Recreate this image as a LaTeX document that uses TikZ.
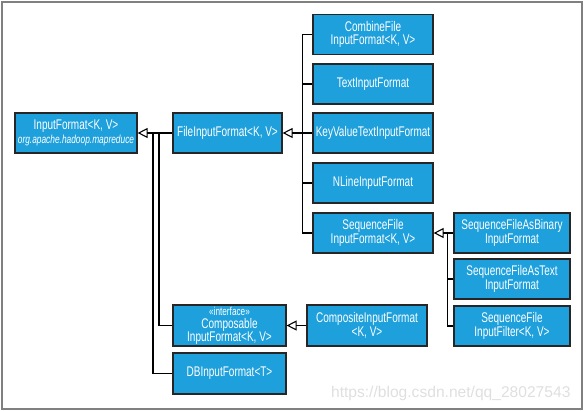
\documentclass[tikz,border=0pt]{standalone}
\usepackage{fontspec}
\usetikzlibrary{arrows.meta}
\newfontfamily\boxfont{Liberation Sans}[FakeStretch=0.715]
\newfontfamily\wmfont{Liberation Sans}
\definecolor{boxblue}{RGB}{30,160,220}

\begin{document}
\begin{tikzpicture}[x=1pt,y=-1pt,
  cls/.style={draw=black!85,line width=1.2pt,fill=boxblue,text=white,inner sep=0pt,
    minimum height=40pt,align=center,font=\boxfont\fontsize{14}{13.5}\selectfont},
  inh/.style={line width=1.1pt,-{Triangle[open,length=10pt,width=10pt]}},
  lnk/.style={line width=1.1pt}]
\useasboundingbox (0,0) rectangle (584,411);
\draw[gray,line width=1.3pt] (2,2) rectangle (582,409);

\node[cls,minimum width=122pt] (inf) at (76,133) {InputFormat<K, V>\\{\itshape\fontsize{11.7}{11}\selectfont org.apache.hadoop.mapreduce}};
\node[cls,minimum width=109pt] (fif) at (227.5,133) {FileInputFormat<K, V>};
\node[cls,minimum width=120pt] (cmb) at (373,34.5) {CombineFile\\InputFormat<K, V>};
\node[cls,minimum width=120pt] (tif) at (373,84) {TextInputFormat};
\node[cls,minimum width=120pt] (kv) at (373,133) {KeyValueTextInputFormat};
\node[cls,minimum width=120pt] (nl) at (373,183) {NLineInputFormat};
\node[cls,minimum width=120pt] (seq) at (373,233) {SequenceFile\\InputFormat<K, V>};
\node[cls,minimum width=116pt] (sfb) at (512,233) {SequenceFileAsBinary\\InputFormat};
\node[cls,minimum width=116pt] (sft) at (512,279) {SequenceFileAsText\\InputFormat};
\node[cls,minimum width=116pt] (sff) at (512,326) {SequenceFile\\InputFilter<K, V>};
\node[cls,minimum width=120pt,minimum height=41pt] (cif) at (367,325.5) {CompositeInputFormat\\<K, V>};
\node[cls,minimum width=113pt,minimum height=41pt,font=\boxfont\fontsize{14}{13}\selectfont] (cmp) at (229.5,325.5) {{\fontsize{11.5}{11}\selectfont\guillemotleft interface\guillemotright}\\Composable\\InputFormat<K, V>};
\node[cls,minimum width=113pt,minimum height=41pt] (db) at (229.5,373.5) {DBInputFormat<T>};

\coordinate (j1) at (159,133);
\coordinate (j2) at (153,133);
\draw[inh] (fif.west) -- (inf.east);
\draw[lnk] (cmp.west) -| (j1);
\draw[lnk] (db.west) -| (j2);

\draw[inh] (kv.west) -- (fif.east);
\draw[lnk] (cmb.west) -- ++(-10,0) |- (seq.west);
\draw[lnk] (tif.west) -- ++(-10,0);
\draw[lnk] (nl.west) -- ++(-10,0);

\draw[inh] (sfb.west) -- (seq.east);
\draw[lnk] (sfb.west) -- ++(-6,0) |- (sff.west);
\draw[lnk] (sft.west) -- ++(-6,0);

\draw[inh] (cif.west) -- (cmp.east);

\node[text=gray!25,font=\wmfont\fontsize{15.6}{15}\selectfont,anchor=east] (wm) at (574,393) {https://blog.csdn.net/qq\_28027543};
\end{tikzpicture}
\end{document}
